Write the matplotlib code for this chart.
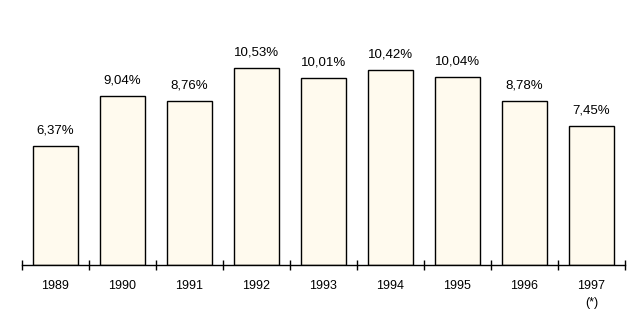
import numpy as np
import matplotlib.pyplot as plt

years = ["1989", "1990", "1991", "1992", "1993", "1994", "1995", "1996", "1997\n(*)"]
values = [6.37, 9.04, 8.76, 10.53, 10.01, 10.42, 10.04, 8.78, 7.45]
value_labels = ["6,37%", "9,04%", "8,76%", "10,53%", "10,01%", "10,42%", "10,04%", "8,78%", "7,45%"]

plt.rcParams['font.family'] = ['Liberation Sans', 'DejaVu Sans']

fig = plt.figure(figsize=(6.4, 3.27), dpi=100)
ax = fig.add_axes([22 / 640, 62 / 327, 603 / 640, 265 / 327])

x = np.arange(len(values))
ax.bar(x, values, width=0.67, color="#FFFAEE", edgecolor="black", linewidth=1.0)

for xi, v, lab in zip(x, values, value_labels):
    ax.annotate(lab, (xi, v), xytext=(0, 7), textcoords="offset points",
                ha="center", va="bottom", fontsize=9.5)

ax.set_xlim(-0.5, len(values) - 0.5)
ax.set_ylim(0, 265 / 18.68)

for s in ["top", "right", "left"]:
    ax.spines[s].set_visible(False)
ax.spines["bottom"].set_linewidth(1.0)
ax.set_yticks([])

ax.set_xticks(np.arange(len(values) + 1) - 0.5)
ax.set_xticklabels([])
ax.tick_params(axis="x", which="major", direction="inout", length=7, width=1.0)
ax.set_xticks(x, minor=True)
ax.set_xticklabels(years, minor=True, fontsize=9)
ax.tick_params(axis="x", which="minor", length=0, pad=10.5)
for lbl in ax.get_xticklabels(minor=True):
    lbl.set_linespacing(1.55)

fig.savefig("out.png", dpi=100)
